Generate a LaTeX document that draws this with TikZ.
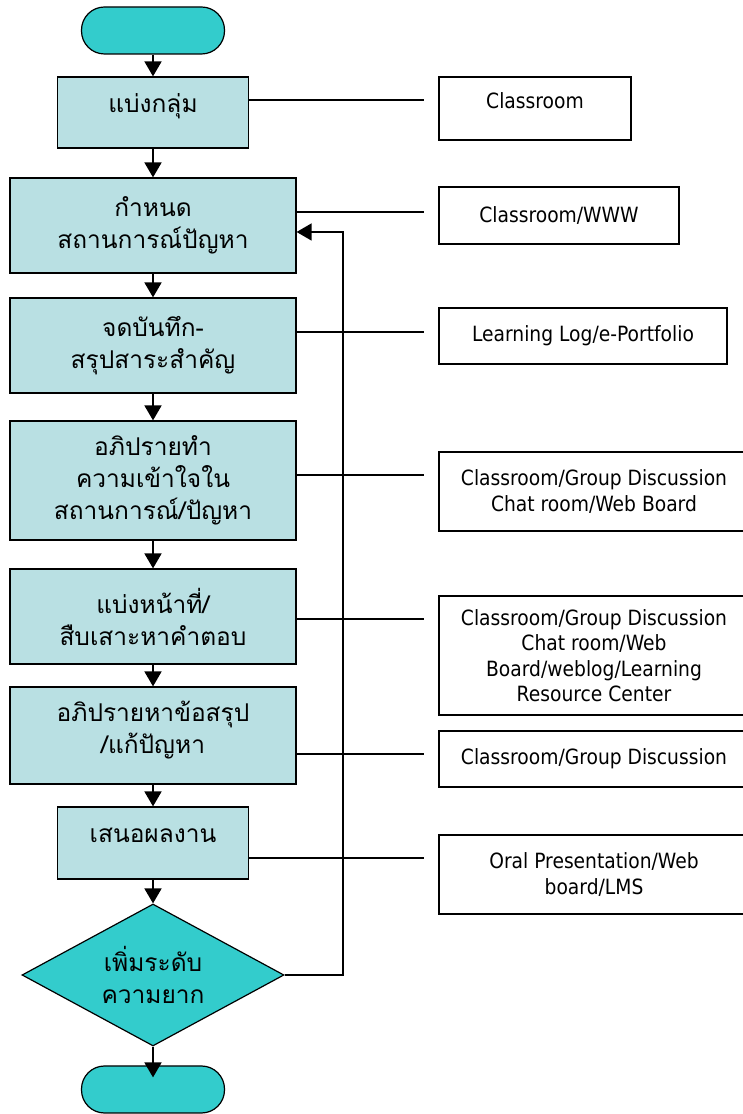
\documentclass[tikz,border=0pt]{standalone}
\usepackage{fontspec}
\usetikzlibrary{shapes.geometric,arrows.meta}
\newfontfamily\thaifont[Script=Thai]{Loma}
\newfontfamily\mediafont[FakeStretch=0.89]{DejaVu Sans}
\definecolor{boxblue}{HTML}{B9E0E3}
\definecolor{termteal}{HTML}{33CCCC}
\begin{document}
\begin{tikzpicture}[x=1pt,y=1pt,
    stepbox/.style={draw,line width=1.2pt,fill=boxblue,align=center,inner sep=0pt,
      font=\thaifont\fontsize{24.5}{32}\selectfont},
    termbox/.style={draw,line width=1.2pt,fill=termteal,rounded corners=23pt,
      minimum width=143pt,minimum height=47pt},
    mediabox/.style={draw,line width=1.2pt,fill=white,align=center,inner sep=0pt,
      font=\mediafont\fontsize{21}{25.5}\selectfont},
    raised/.style={text height=16pt,text depth=16pt},
    flow/.style={line width=1.8pt,-{Triangle[length=15pt,width=17pt]}},
    link/.style={line width=1.1pt}]
      \useasboundingbox (0,0) rectangle (742,1114);

      \node[termbox] (start) at (153,1083.5) {};
      \node[stepbox,raised,minimum width=191pt,minimum height=71pt] (b1) at (153,1001.5) {แบ่งกลุ่ม};
      \node[stepbox,minimum width=286pt,minimum height=95pt] (b2) at (153,888.5) {กำหนด\\สถานการณ์ปัญหา};
      \node[stepbox,minimum width=286pt,minimum height=95pt] (b3) at (153,768.5) {จดบันทึก-\\สรุปสาระสำคัญ};
      \node[stepbox,minimum width=286pt,minimum height=119pt] (b4) at (153,633.5) {อภิปรายทำ\\ความเข้าใจใน\\สถานการณ์/ปัญหา};
      \node[stepbox,minimum width=286pt,minimum height=95pt] (b5) at (153,497.5) {แบ่งหน้าที่/\\สืบเสาะหาคำตอบ};
      \node[stepbox,text depth=16pt,minimum width=286pt,minimum height=97pt] (b6) at (153,378.5) {อภิปรายหาข้อสรุป\\/แก้ปัญหา};
      \node[stepbox,raised,minimum width=191pt,minimum height=72pt] (b7) at (153,271) {เสนอผลงาน};
      \node[stepbox,diamond,fill=termteal,inner sep=-20pt,minimum width=262pt,minimum height=142pt] (dec) at (153,139) {เพิ่มระดับ\\ความยาก};
      \node[termbox] (stop) at (153,24.5) {};

      \node[mediabox,raised,minimum width=192pt,minimum height=63pt] (r1) at (535,1005.5) {Classroom};
      \node[mediabox,minimum width=240pt,minimum height=57pt] (r2) at (559,898.5) {Classroom/WWW};
      \node[mediabox,minimum width=288pt,minimum height=56pt] (r3) at (583,778) {Learning Log/e-Portfolio};
      \node[mediabox,minimum width=310pt,minimum height=79pt] (r4) at (594,622.5) {Classroom/Group Discussion\\Chat room/Web Board};
      \node[mediabox,minimum width=310pt,minimum height=119pt] (r5) at (594,458.5) {Classroom/Group Discussion\\Chat room/Web\\Board/weblog/Learning\\Resource Center};
      \node[mediabox,minimum width=310pt,minimum height=56pt] (r6) at (594,355) {Classroom/Group Discussion};
      \node[mediabox,minimum width=310pt,minimum height=79pt] (r7) at (594,239.5) {Oral Presentation/Web\\board/LMS};

      \coordinate (t1) at (424,1014);
      \coordinate (t2) at (424,902);
      \coordinate (t3) at (424,782);
      \coordinate (t4) at (424,639);
      \coordinate (t5) at (424,495);
      \coordinate (t6) at (424,360);
      \coordinate (t7) at (424,256);
      \coordinate (back) at (343,882);

      \draw[link] (b1.east |- t1) -- (t1);
      \draw[link] (b2.east |- t2) -- (t2);
      \draw[link] (b3.east |- t3) -- (t3);
      \draw[link] (b4.east |- t4) -- (t4);
      \draw[link] (b5.east |- t5) -- (t5);
      \draw[link] (b6.east |- t6) -- (t6);
      \draw[link] (b7.east |- t7) -- (t7);

      \draw[flow] (start) -- (b1);
      \draw[flow] (b1) -- (b2);
      \draw[flow] (b2) -- (b3);
      \draw[flow] (b3) -- (b4);
      \draw[flow] (b4) -- (b5);
      \draw[flow] (b5) -- (b6);
      \draw[flow] (b6) -- (b7);
      \draw[flow] (b7) -- (dec);
      \draw[flow] (dec.south) -- ([yshift=-12pt]stop.north);
      \draw[flow,line width=1.6pt] (dec.east) -| (back) -- (b2.east |- back);
    \end{tikzpicture}
\end{document}
